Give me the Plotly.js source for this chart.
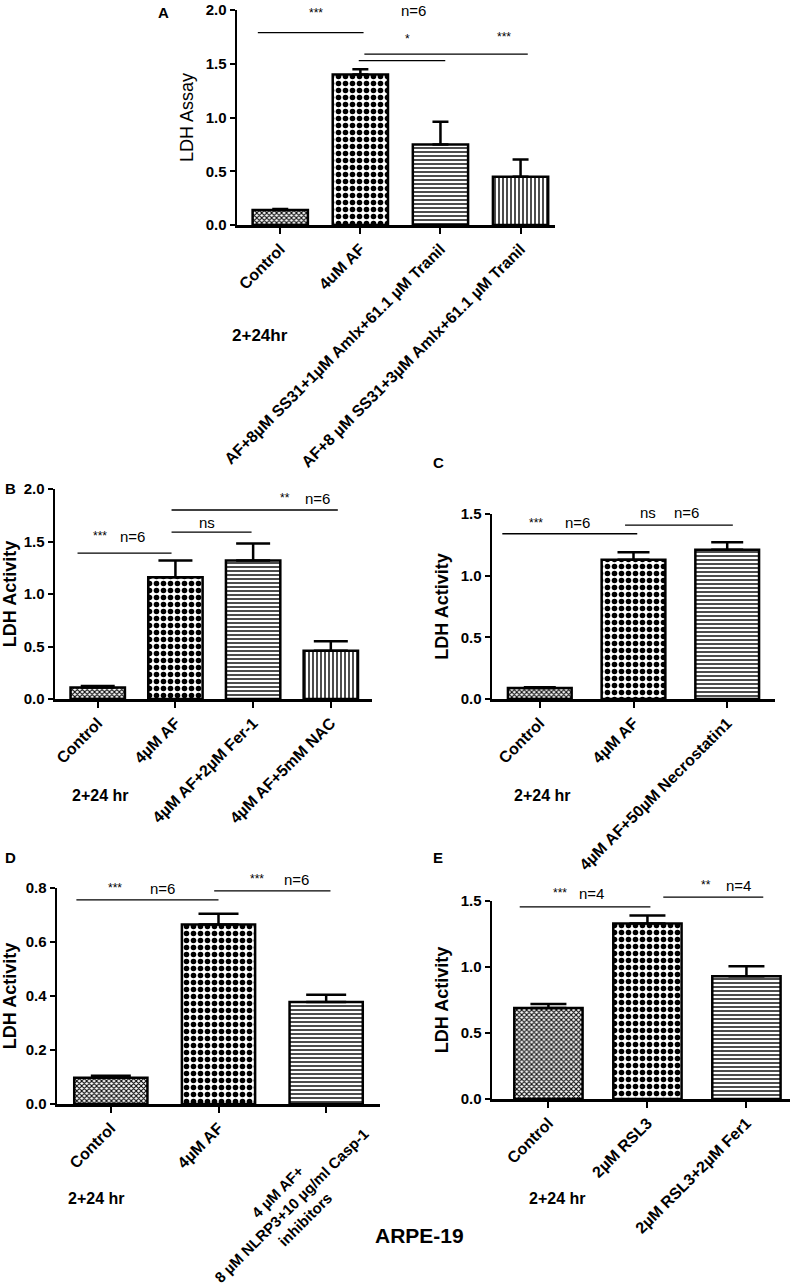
<!DOCTYPE html>
<html><head><meta charset="utf-8">
<script src="https://cdn.plot.ly/plotly-3.0.1.min.js"></script>
<style>body{margin:0;background:#fff}#chart{width:800px;height:1286px}</style>
</head><body><div id="chart"></div><script>
// ---------- DATA ----------
const catsA = ["Control", "4uM AF", "AF+8µM SS31+1µM Amlx+61.1 µM Tranil", "AF+8 µM SS31+3µM Amlx+61.1 µM Tranil"];
const meanA = [0.14, 1.40, 0.75, 0.45];
const semA  = [0.01, 0.05, 0.21, 0.16];

const catsB = ["Control", "4µM AF", "4µM AF+2µM Fer-1", "4µM AF+5mM NAC"];
const meanB = [0.11, 1.16, 1.32, 0.46];
const semB  = [0.015, 0.16, 0.16, 0.09];

const catsC = ["Control", "4µM AF", "4µM AF+50µM Necrostatin1"];
const meanC = [0.09, 1.13, 1.21];
const semC  = [0.006, 0.06, 0.06];

const catsD = ["Control", "4µM AF", "4 µM AF+<br>8 µM NLRP3+10 µg/ml Casp-1<br>inhibitors"];
const meanD = [0.097, 0.665, 0.378];
const semD  = [0.008, 0.04, 0.027];

const catsE = ["Control", "2µM RSL3", "2µM RSL3+2µM Fer1"];
const meanE = [0.69, 1.33, 0.93];
const semE  = [0.03, 0.06, 0.075];

// significance bars: [x start, x end, y]
const sigLinesA = [[-0.28, 1.04, 1.79], [0.98, 2.06, 1.53], [1.05, 3.09, 1.59]];
const sigTextA  = [["***", 0.44, 1.97], ["n=6", 1.66, 2.0], ["*", 1.59, 1.73], ["***", 2.79, 1.75]];
const sigLinesB = [[-0.26, 0.95, 1.39], [0.95, 1.98, 1.59], [0.95, 3.09, 1.80]];
const sigTextB  = [["***", 0.03, 1.55], ["n=6", 0.45, 1.55], ["ns", 1.40, 1.68], ["**", 2.41, 1.91], ["n=6", 2.83, 1.91]];
const sigLinesC = [[-0.40, 1.04, 1.34], [0.91, 2.06, 1.41]];
const sigTextC  = [["***", -0.04, 1.43], ["n=6", 0.40, 1.43], ["ns", 1.16, 1.51], ["n=6", 1.57, 1.51]];
const sigLinesD = [[-0.32, 1.00, 0.756], [0.96, 2.04, 0.789]];
const sigTextD  = [["***", 0.04, 0.80], ["n=6", 0.48, 0.80], ["***", 1.36, 0.833], ["n=6", 1.72, 0.833]];
const sigLinesE = [[-0.29, 1.03, 1.455], [1.16, 2.17, 1.53]];
const sigTextE  = [["***", 0.12, 1.56], ["n=4", 0.44, 1.56], ["**", 1.59, 1.62], ["n=4", 1.92, 1.62]];

// ---------- STYLE / LAYOUT ----------
const W = 800, H = 1286;
const FONT = "Liberation Sans, Arial, sans-serif";
const PX = x => x / W, PY = y => 1 - y / H;

const PAT = {
  fine:    {shape: "x", size: 3.5, solidity: 0.5},
  checker: {shape: ".", size: 7, solidity: 0.5},
  hline:   {shape: "-", size: 4, solidity: 0.35},
  vline:   {shape: "|", size: 4, solidity: 0.35}
};

const panels = [
  {cats: catsA, mean: meanA, sem: semA, lines: sigLinesA, texts: sigTextA, pats: ["fine","checker","hline","vline"],
   xpx: [237, 555], ypx: [10, 225], xr: [-0.54, 3.43], yr: [0, 2.0], dtick: 0.5, cap: 8, bw: 0.69,
   ytitle: "LDH Assay", ytbold: false, ytsize: 18, letter: "A", lpos: [163, 12], hr: "2+24hr", hrpos: [260, 335], hrsize: 17},
  {cats: catsB, mean: meanB, sem: semB, lines: sigLinesB, texts: sigTextB, pats: ["fine","checker","hline","vline"],
   xpx: [55, 372], ypx: [489, 699], xr: [-0.55, 3.53], yr: [0, 2.0], dtick: 0.5, cap: 17, bw: 0.7,
   ytitle: "LDH Activity", ytbold: true, ytsize: 18, letter: "B", lpos: [10, 489], hr: "2+24 hr", hrpos: [100, 795], hrsize: 16},
  {cats: catsC, mean: meanC, sem: semC, lines: sigLinesC, texts: sigTextC, pats: ["fine","checker","hline"],
   xpx: [492, 775], ypx: [514, 699], xr: [-0.51, 2.51], yr: [0, 1.5], dtick: 0.5, cap: 16, bw: 0.68,
   ytitle: "LDH Activity", ytbold: true, ytsize: 18, letter: "C", lpos: [438, 462], hr: "2+24 hr", hrpos: [542, 795], hrsize: 16},
  {cats: catsD, mean: meanD, sem: semD, lines: sigLinesD, texts: sigTextD, pats: ["fine","checker","hline"],
   xpx: [57, 380], ypx: [888, 1104], xr: [-0.5, 2.5], yr: [0, 0.8], dtick: 0.2, cap: 20, bw: 0.68,
   ytitle: "LDH Activity", ytbold: true, ytsize: 18, letter: "D", lpos: [10, 857], hr: "2+24 hr", hrpos: [96, 1198], hrsize: 16,
   centeredLabel: {index: 2, dx: 1.67, dy: -0.47, size: 15}},
  {cats: catsE, mean: meanE, sem: semE, lines: sigLinesE, texts: sigTextE, pats: ["fine","checker","hline"],
   xpx: [492, 790], ypx: [901, 1099], xr: [-0.57, 2.44], yr: [0, 1.5], dtick: 0.5, cap: 18, bw: 0.69,
   ytitle: "LDH Activity", ytbold: true, ytsize: 18, letter: "E", lpos: [438, 857], hr: "2+24 hr", hrpos: [557, 1198], hrsize: 16}
];

const data = [];
const layout = {
  width: W, height: H, margin: {l: 0, r: 0, t: 0, b: 0},
  paper_bgcolor: "#fff", plot_bgcolor: "rgba(0,0,0,0)",
  showlegend: false, bargap: 0.3,
  font: {family: FONT, color: "#000"},
  annotations: [], shapes: []
};

panels.forEach((p, i) => {
  const k = i === 0 ? "" : String(i + 1);
  const xa = "x" + k, ya = "y" + k;
  const yd = ya + " domain";
  const toDom = v => (v - p.yr[0]) / (p.yr[1] - p.yr[0]);
  const idx = p.cats.map((_, j) => j);
  data.push({
    type: "bar", x: idx, y: p.mean, xaxis: xa, yaxis: ya, width: p.bw,
    marker: {
      color: "#fff",
      line: {color: "#000", width: 2.5},
      pattern: {
        shape: p.pats.map(q => PAT[q].shape),
        size: p.pats.map(q => PAT[q].size),
        solidity: p.pats.map(q => PAT[q].solidity),
        fgcolor: "#000", bgcolor: "#fff", fillmode: "replace"
      }
    },
    error_y: {type: "data", symmetric: false, array: p.sem, arrayminus: p.sem.map(() => 0),
              color: "#000", thickness: 2.5, width: p.cap},
    hoverinfo: "skip"
  });
  p.lines.forEach(l => {
    layout.shapes.push({type: "line", xref: xa, yref: yd, x0: l[0], x1: l[1], y0: toDom(l[2]), y1: toDom(l[2]),
      line: {color: "#000", width: 1.3}});
  });
  p.texts.forEach(t => {
    const star = t[0].indexOf("*") >= 0;
    layout.annotations.push({xref: xa, yref: yd, x: t[1], y: toDom(t[2]), text: t[0], showarrow: false,
      font: {family: FONT, size: star ? 12 : 15, color: "#000"}, yanchor: "middle"});
  });
  const ticktext = p.cats.slice();
  if (p.centeredLabel) {
    const c = p.centeredLabel;
    ticktext[c.index] = "";
    layout.annotations.push({xref: xa, yref: yd, x: c.dx, y: c.dy, text: p.cats[c.index], textangle: -45,
      align: "center", showarrow: false, xanchor: "center", yanchor: "middle",
      font: {family: FONT, size: c.size, weight: "bold", color: "#000"}});
  }
  layout["xaxis" + k] = {
    domain: [PX(p.xpx[0]), PX(p.xpx[1])], range: p.xr, anchor: ya,
    tickvals: idx, ticktext: ticktext, tickangle: -45,
    tickfont: {family: FONT, size: 16, weight: "bold", color: "#000"},
    showline: true, linecolor: "#000", linewidth: 2.5, ticks: "outside", ticklen: 6, tickwidth: 2, tickcolor: "#000",
    showgrid: false, zeroline: false, fixedrange: true
  };
  layout["yaxis" + k] = {
    domain: [PY(p.ypx[1]), PY(p.ypx[0])], range: p.yr, anchor: xa,
    dtick: p.dtick, tick0: 0, tickformat: ".1f",
    tickfont: {family: FONT, size: 15, weight: "bold", color: "#000"},
    showline: true, linecolor: "#000", linewidth: 2.5, ticks: "outside", ticklen: 5, tickwidth: 2, tickcolor: "#000",
    showgrid: false, zeroline: false, fixedrange: true,
    title: {text: p.ytitle, standoff: 8, font: {family: FONT, size: p.ytsize, weight: p.ytbold ? "bold" : "normal", color: "#000"}}
  };
  layout.annotations.push({xref: "paper", yref: "paper", x: PX(p.lpos[0]), y: PY(p.lpos[1]), text: "<b>" + p.letter + "</b>",
    showarrow: false, font: {family: FONT, size: 15, color: "#000"}, xanchor: "center", yanchor: "middle"});
  layout.annotations.push({xref: "paper", yref: "paper", x: PX(p.hrpos[0]), y: PY(p.hrpos[1]), text: "<b>" + p.hr + "</b>",
    showarrow: false, font: {family: FONT, size: p.hrsize, color: "#000"}, xanchor: "center", yanchor: "middle"});
});

layout.annotations.push({xref: "paper", yref: "paper", x: PX(419), y: PY(1235), text: "<b>ARPE-19</b>",
  showarrow: false, font: {family: FONT, size: 21, color: "#000"}, xanchor: "center", yanchor: "middle"});

Plotly.newPlot("chart", data, layout, {staticPlot: true, displayModeBar: false});
</script></body></html>
